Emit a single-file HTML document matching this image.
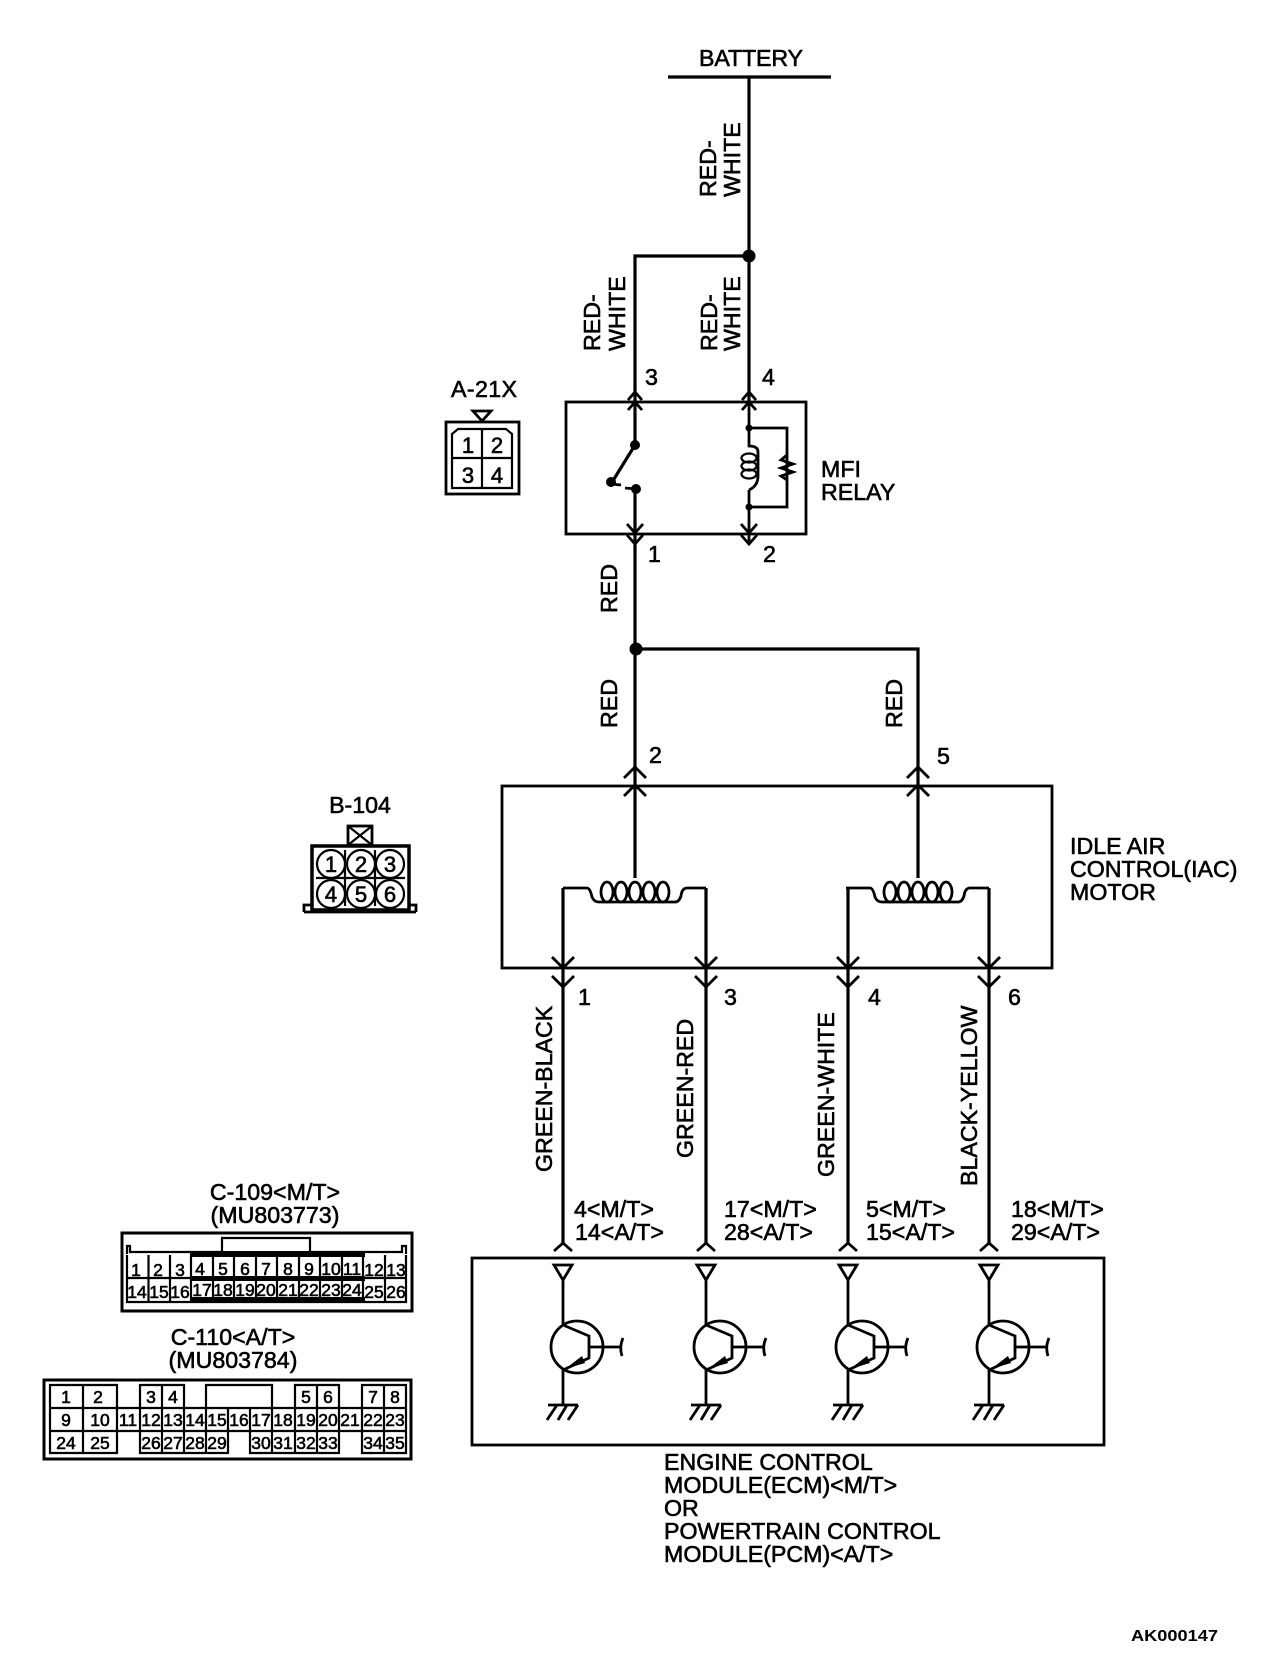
<!DOCTYPE html>
<html><head><meta charset="utf-8"><style>
html,body{margin:0;padding:0;background:#fff;width:1280px;height:1664px;overflow:hidden}
svg{display:block}
text{font-family:"Liberation Sans",sans-serif;font-size:23.2px;fill:#000;stroke:#000;stroke-width:.6}
.n{font-size:17.5px;text-anchor:middle;stroke-width:.6}
.d{font-size:22px;text-anchor:middle;stroke-width:.6}
.w{fill:none;stroke:#000;stroke-width:3.2}
.t{fill:none;stroke:#000;stroke-width:2.8}
.c{fill:none;stroke:#000;stroke-width:2.2}
</style></head><body>
<svg width="1280" height="1664" viewBox="0 0 1280 1664" xmlns="http://www.w3.org/2000/svg">
<defs>
<path id="u" class="t" d="M-7 8L0 0L7 8"/>
<path id="dn" class="t" d="M-8 -9L0 0L8 -9"/>
<path id="U2" class="t" d="M-11 11L0 0L11 11"/>
<path id="D2" class="t" d="M-11 -11L0 0L11 -11"/>
<g id="coil">
<path class="t" d="M-72 10H-48Q-45 10 -43 19Q-41 24 -36 24H40Q44 24 46 18Q47 10 52 10H71"/>
<ellipse class="t" cx="-28" cy="14" rx="6" ry="10"/>
<ellipse class="t" cx="-14" cy="14" rx="6" ry="10"/>
<ellipse class="t" cx="0" cy="14" rx="6" ry="10"/>
<ellipse class="t" cx="14" cy="14" rx="6" ry="10"/>
<ellipse class="t" cx="28" cy="14" rx="6" ry="10"/>
</g>
<g id="tr">
<path class="t" d="M-9 1265H9L0 1280Z"/>
<path class="t" d="M-9 1251L0 1243L9 1251"/>
<path class="t" d="M0 1280V1325L26 1336V1358L0 1370V1405"/>
<circle class="t" cx="14" cy="1347" r="26"/>
<path class="t" d="M26 1347H58M60 1338Q56 1347 59 1356"/>
<path d="M2 1369L19 1356L22 1363Z" fill="#000"/>
<path class="t" d="M-15 1405H15M-6 1405L-16 1420M4 1405L-5 1420M15 1405L5 1420"/>
</g>
</defs>

<!-- Battery -->
<text x="699" y="66" textLength="104">BATTERY</text>
<path class="w" d="M668 77H831"/>
<path class="w" d="M749 77V402M749 256H635V402"/>
<circle cx="749" cy="256" r="6.5"/>
<text transform="translate(716,197) rotate(-90)">RED-</text>
<text transform="translate(740,197) rotate(-90)">WHITE</text>
<text transform="translate(600,351) rotate(-90)">RED-</text>
<text transform="translate(625,351) rotate(-90)">WHITE</text>
<text transform="translate(717,351) rotate(-90)">RED-</text>
<text transform="translate(740,351) rotate(-90)">WHITE</text>

<text x="645" y="385">3</text><text x="762" y="385">4</text>
<text x="648" y="562">1</text><text x="763" y="562">2</text>

<!-- Relay -->
<rect class="t" x="566" y="402" width="240" height="132" fill="none"/>
<use href="#u" x="635" y="392"/><use href="#u" x="635" y="402"/>
<use href="#u" x="749" y="392"/><use href="#u" x="749" y="402"/>
<use href="#dn" x="635" y="533"/><use href="#dn" x="635" y="544"/>
<use href="#dn" x="749" y="533"/><use href="#dn" x="749" y="544"/>
<path class="w" d="M635 402V445"/>
<circle cx="635" cy="445" r="5"/>
<path class="w" d="M635 445L614 479"/>
<circle cx="611" cy="482" r="5"/>
<path class="t" d="M611 484L621 485M625 488L636 489"/>
<circle cx="636" cy="489" r="5"/>
<path class="w" d="M635 489V785"/>
<path class="t" d="M749 402V446Q758 446 758 452M749 428H787V507H749M749 490Q758 486 758 476V452M749 490V544"/>
<ellipse class="c" cx="749" cy="458" rx="7.500" ry="4.500"/>
<ellipse class="c" cx="749" cy="466" rx="7.500" ry="4.500"/>
<ellipse class="c" cx="749" cy="474" rx="7.500" ry="4.500"/>
<circle cx="749" cy="428" r="3.500"/><circle cx="749" cy="507" r="3.500"/>
<path class="t" d="M787 455L781 460L793 464L781 468L793 472L781 476L787 480"/>
<text x="821" y="477">MFI</text><text x="821" y="500">RELAY</text>

<!-- A-21X -->
<text x="451" y="397" textLength="66">A-21X</text>
<path class="t" d="M473 411H491L482 421Z"/>
<rect class="t" x="446" y="422" width="73" height="72" fill="none"/>
<path class="c" d="M452 488V434L458 429H506L512 434V488ZM482 429V488M452 458H512"/>
<text class="d" x="468" y="453">1</text><text class="d" x="497" y="453">2</text>
<text class="d" x="468" y="483">3</text><text class="d" x="497" y="483">4</text>

<!-- Red wires -->
<path class="w" d="M635 649H918V785"/>
<circle cx="636" cy="649" r="6.500"/>
<text transform="translate(617,613) rotate(-90)">RED</text>
<text transform="translate(617,728) rotate(-90)">RED</text>
<text transform="translate(902,728) rotate(-90)">RED</text>
<text x="649" y="763">2</text><text x="937" y="764">5</text>

<!-- IAC -->
<rect class="t" x="502" y="786" width="550" height="182" fill="none"/>
<use href="#U2" x="635" y="767"/><use href="#U2" x="635" y="785"/>
<use href="#U2" x="918" y="767"/><use href="#U2" x="918" y="785"/>
<path class="w" d="M635 785V878M918 785V878"/>
<use href="#coil" x="635" y="878"/><use href="#coil" x="918" y="878"/>
<path class="w" d="M563 888V1243M706 888V1243M848 888V1243M989 888V1243"/>
<use href="#D2" x="563" y="968"/><use href="#D2" x="563" y="987"/>
<use href="#D2" x="706" y="968"/><use href="#D2" x="706" y="987"/>
<use href="#D2" x="848" y="968"/><use href="#D2" x="848" y="987"/>
<use href="#D2" x="989" y="968"/><use href="#D2" x="989" y="987"/>
<text x="578" y="1005">1</text><text x="724" y="1005">3</text><text x="868" y="1005">4</text><text x="1008" y="1005">6</text>
<text x="1070" y="854">IDLE AIR</text><text x="1070" y="877">CONTROL(IAC)</text><text x="1070" y="900">MOTOR</text>

<text transform="translate(552,1172) rotate(-90)">GREEN-BLACK</text>
<text transform="translate(693,1158) rotate(-90)">GREEN-RED</text>
<text transform="translate(834,1177) rotate(-90)">GREEN-WHITE</text>
<text transform="translate(977,1186) rotate(-90)">BLACK-YELLOW</text>

<text x="574" y="1217">4&lt;M/T&gt;</text><text x="575" y="1240">14&lt;A/T&gt;</text>
<text x="724" y="1217">17&lt;M/T&gt;</text><text x="724" y="1240">28&lt;A/T&gt;</text>
<text x="866" y="1217">5&lt;M/T&gt;</text><text x="866" y="1240">15&lt;A/T&gt;</text>
<text x="1011" y="1217">18&lt;M/T&gt;</text><text x="1011" y="1240">29&lt;A/T&gt;</text>

<!-- ECM -->
<rect class="t" x="472" y="1258" width="632" height="187" fill="none"/>
<use href="#tr" x="563"/><use href="#tr" x="706"/><use href="#tr" x="848"/><use href="#tr" x="989"/>
<text x="664" y="1470">ENGINE CONTROL</text>
<text x="664" y="1493">MODULE(ECM)&lt;M/T&gt;</text>
<text x="664" y="1516">OR</text>
<text x="664" y="1539">POWERTRAIN CONTROL</text>
<text x="664" y="1562">MODULE(PCM)&lt;A/T&gt;</text>
<text x="1131" y="1641" textLength="87" lengthAdjust="spacingAndGlyphs" style="font-size:16px;font-weight:bold;stroke-width:0">AK000147</text>

<!-- B-104 -->
<text x="360" y="813" text-anchor="middle">B-104</text>
<rect class="t" x="348" y="826" width="24" height="19" fill="none"/>
<path class="c" d="M348 826L372 845M372 826L348 845"/>
<rect x="312" y="846" width="97" height="64" fill="none" stroke="#000" stroke-width="3.500"/>
<path class="t" d="M304 912V905H312M408 905H416V912M304 912H416"/>
<path class="c" d="M345 850V906M375 850V906M316 878H405"/>
<g fill="#fff" stroke="#000" stroke-width="2.200">
<circle cx="331" cy="864" r="14"/><circle cx="361" cy="864" r="14"/><circle cx="390" cy="864" r="14"/>
<circle cx="331" cy="894" r="14"/><circle cx="361" cy="894" r="14"/><circle cx="390" cy="894" r="14"/>
</g>
<text class="d" x="331" y="872">1</text><text class="d" x="361" y="872">2</text><text class="d" x="390" y="872">3</text>
<text class="d" x="331" y="902">4</text><text class="d" x="361" y="902">5</text><text class="d" x="390" y="902">6</text>

<!-- C-109 -->
<text x="275" y="1200" text-anchor="middle">C-109&lt;M/T&gt;</text>
<text x="275" y="1223" text-anchor="middle">(MU803773)</text>
<rect x="122" y="1233" width="290" height="78" fill="none" stroke="#000" stroke-width="3"/>
<path class="c" d="M127 1254V1246H130V1252H222V1238H310V1252H402V1246H406V1254"/>
<path d="M190 1251H365V1257H190ZM190 1276H365V1281H190ZM190 1297H365V1302H190Z" fill="#000"/>
<path class="c" d="M127 1255V1302H406V1255M127 1278H406M148.500 1255V1302M170 1255V1302M191 1255V1302M213 1255V1302M234 1255V1302M256 1255V1302M277 1255V1302M299 1255V1302M320 1255V1302M342 1255V1302M363 1255V1302M385 1255V1302"/>
<text class="n" x="136" y="1276">1</text><text class="n" x="158" y="1276">2</text><text class="n" x="180" y="1276">3</text><text class="n" x="200" y="1275">4</text><text class="n" x="223" y="1275">5</text><text class="n" x="245" y="1275">6</text><text class="n" x="266" y="1275">7</text><text class="n" x="288" y="1275">8</text><text class="n" x="309" y="1275">9</text><text class="n" x="331" y="1275">10</text><text class="n" x="352" y="1275">11</text><text class="n" x="374" y="1276">12</text><text class="n" x="396" y="1276">13</text>
<text class="n" x="137" y="1298">14</text><text class="n" x="159" y="1298">15</text><text class="n" x="180" y="1298">16</text><text class="n" x="202" y="1296">17</text><text class="n" x="223" y="1296">18</text><text class="n" x="245" y="1296">19</text><text class="n" x="266" y="1296">20</text><text class="n" x="288" y="1296">21</text><text class="n" x="309" y="1296">22</text><text class="n" x="331" y="1296">23</text><text class="n" x="352" y="1296">24</text><text class="n" x="374" y="1298">25</text><text class="n" x="396" y="1298">26</text>

<!-- C-110 -->
<text x="233" y="1345" text-anchor="middle">C-110&lt;A/T&gt;</text>
<text x="233" y="1368" text-anchor="middle">(MU803784)</text>
<rect x="44" y="1380" width="367" height="79" fill="none" stroke="#000" stroke-width="3"/>
<path class="c" d="M50 1408V1385H117V1408M83 1385V1408M140 1408V1385H184V1408M162 1385V1408M206 1408V1385H272V1408M295 1408V1385H339V1408M317 1385V1408M362 1408V1385H406V1408M384 1385V1408"/>
<path class="c" d="M50 1408H406M50 1431H406M50 1408V1431M83 1408V1431M117 1408V1431M140 1408V1431M162 1408V1431M184 1408V1431M206 1408V1431M228 1408V1431M250 1408V1431M272 1408V1431M295 1408V1431M317 1408V1431M339 1408V1431M362 1408V1431M384 1408V1431M406 1408V1431"/>
<path class="c" d="M50 1431V1453H117V1431M83 1431V1453M140 1431V1453H228V1431M162 1431V1453M184 1431V1453M206 1431V1453M250 1431V1453H339V1431M272 1431V1453M295 1431V1453M317 1431V1453M362 1431V1453H406V1431M384 1431V1453"/>
<text class="n" x="66" y="1403">1</text><text class="n" x="98" y="1403">2</text><text class="n" x="151" y="1403">3</text><text class="n" x="173" y="1403">4</text><text class="n" x="306" y="1403">5</text><text class="n" x="328" y="1403">6</text><text class="n" x="373" y="1403">7</text><text class="n" x="395" y="1403">8</text>
<text class="n" x="66" y="1426">9</text><text class="n" x="100" y="1426">10</text><text class="n" x="128" y="1426">11</text><text class="n" x="151" y="1426">12</text><text class="n" x="173" y="1426">13</text><text class="n" x="195" y="1426">14</text><text class="n" x="217" y="1426">15</text><text class="n" x="239" y="1426">16</text><text class="n" x="261" y="1426">17</text><text class="n" x="283" y="1426">18</text><text class="n" x="306" y="1426">19</text><text class="n" x="328" y="1426">20</text><text class="n" x="350" y="1426">21</text><text class="n" x="373" y="1426">22</text><text class="n" x="395" y="1426">23</text>
<text class="n" x="66" y="1449">24</text><text class="n" x="100" y="1449">25</text><text class="n" x="151" y="1449">26</text><text class="n" x="173" y="1449">27</text><text class="n" x="195" y="1449">28</text><text class="n" x="217" y="1449">29</text><text class="n" x="261" y="1449">30</text><text class="n" x="283" y="1449">31</text><text class="n" x="306" y="1449">32</text><text class="n" x="328" y="1449">33</text><text class="n" x="373" y="1449">34</text><text class="n" x="395" y="1449">35</text>
</svg>
</body></html>
